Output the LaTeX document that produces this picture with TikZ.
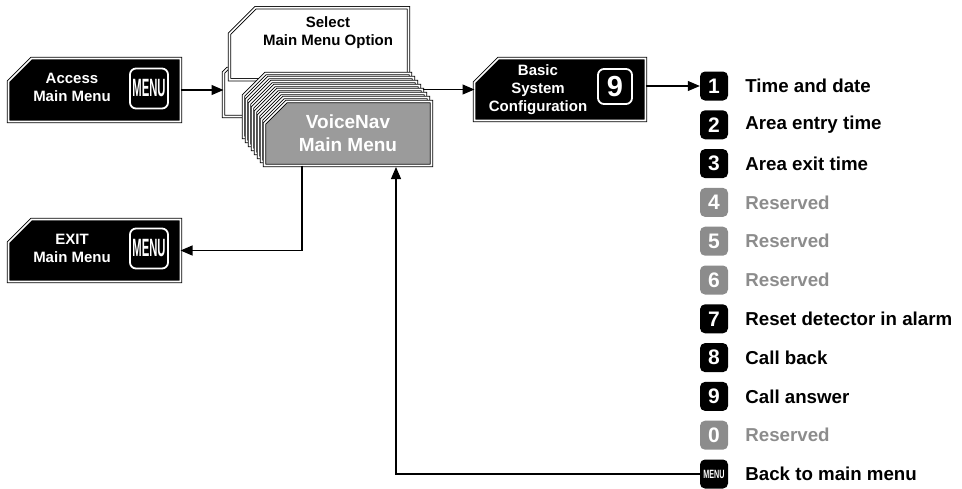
\documentclass[tikz,border=0pt]{standalone}
\usepackage{fontspec}
\setmainfont{Liberation Sans}
\usetikzlibrary{positioning, arrows.meta}

\definecolor{resgray}{RGB}{140,140,140}
\definecolor{navgray}{RGB}{155,155,155}

\tikzset{
  box/.style 2 args={inner sep=0pt, outer sep=0pt, minimum width=#1, minimum height=#2},
  frame/.style={draw=black, line width=0.9pt, double=white, double distance=1.6pt},
  lab/.style={align=center, inner sep=0pt, text=white, font=\bfseries\fontsize{15}{18}\selectfont},
  navtext/.style={align=center, inner sep=0pt, text=white, font=\bfseries\fontsize{19}{23}\selectfont},
  keyicon/.style={draw=white, line width=1.8pt, fill=black, rounded corners=6pt, inner sep=0pt,
    minimum width=38pt, minimum height=40pt, text=white, font=\bfseries\fontsize{25}{25}\selectfont},
  digit/.style={rounded corners=5pt, inner sep=0pt, minimum width=28pt, minimum height=29pt,
    text=white, font=\bfseries\fontsize{21}{21}\selectfont},
  item/.style={inner sep=0pt, anchor=west, font=\bfseries\fontsize{18.7}{20}\selectfont},
  arr/.style={line width=1.1pt, -{Triangle[length=12pt,width=10pt]}},
}

% chamfered double-framed outline around a named node
\newcommand{\chamf}[3]{%
  \path[frame, fill=#3] ([xshift=#2]#1.north west) -- (#1.north east) -- (#1.south east)
    -- (#1.south west) -- ([yshift=-#2]#1.north west) -- cycle;}

\begin{document}
\begin{tikzpicture}[x=1pt, y=-1pt]
\useasboundingbox (0,0) rectangle (962,488);

% option boxes behind the menu stack
\node[box={175pt}{48pt}] (slot) at (311,92.5) {};
\chamf{slot}{4pt}{white}
\node[box={179pt}{72pt}] (select) at (319,43.75) {};
\chamf{select}{26pt}{white}
\node[lab, text=black] (selectlab) at (328,33) {Select\\Main Menu Option};

% stack of menu cards
\foreach \i in {0,...,6} {
  \node[box={167pt}{64pt}] (layer\i) at ({327+3*\i},{105.5+4*\i}) {};
  \chamf{layer\i}{22pt}{white}
}
\node[box={167pt}{64pt}] (vn) at (348,133.5) {};
\chamf{vn}{22pt}{navgray}
\node[navtext] (vnlab) at (vn) {VoiceNav\\Main Menu};

% access and exit
\node[box={172pt}{63pt}] (access) at (94.5,90) {};
\chamf{access}{23pt}{black}
\node[lab] (accesslab) at (72,87) {Access\\Main Menu};
\node[keyicon] (accesskey) at (149,88.5) {\scalebox{0.45}[1]{MENU}};

\node[box={172pt}{62pt}] (exit) at (94.5,250.5) {};
\chamf{exit}{23pt}{black}
\node[lab] (exitlab) at (72,248.5) {EXIT\\Main Menu};
\node[keyicon] (exitkey) at (149,248.5) {\scalebox{0.45}[1]{MENU}};

% basic system configuration
\node[box={171pt}{62pt}] (basic) at (560,89.5) {};
\chamf{basic}{24pt}{black}
\node[lab] (basiclab) at (538,90) {Basic\\System\\Configuration};
\node[keyicon, minimum width=34pt, minimum height=35pt, font=\bfseries\fontsize{29}{29}\selectfont] (basickey) at (615,86.5) {9};

% option list
\foreach \d/\t/\c [count=\k from 0] in {1/Time and date/black, 2/Area entry time/black,
    3/Area exit time/black, 4/Reserved/resgray, 5/Reserved/resgray, 6/Reserved/resgray,
    7/Reset detector in alarm/black, 8/Call back/black, 9/Call answer/black, 0/Reserved/resgray} {
  \node[digit, fill=\c] (n\d) at (714,{86+38.8*\k}) {\d};
  \node[item, text=\c, right=17pt of n\d] (t\d) {\t};
}
\node[digit, fill=black] (nmenu) at (714,474) {\scalebox{0.6}[1]{\fontsize{12}{12}\selectfont MENU}};
\node[item, right=17pt of nmenu] (tmenu) {Back to main menu};

% connectors
\draw[arr] (access.east) -- (access.east -| slot.west);
\draw[arr] (layer4.east |- basic.west) -- (basic.west);
\draw[arr] (basic.east |- n1.west) -- (n1.west);
\draw[arr] ([xshift=-46pt]vn.south) |- (exit.east);
\draw[arr, shorten >=1.5pt] (nmenu.west) -| ([xshift=48pt]vn.south);
\end{tikzpicture}
\end{document}
